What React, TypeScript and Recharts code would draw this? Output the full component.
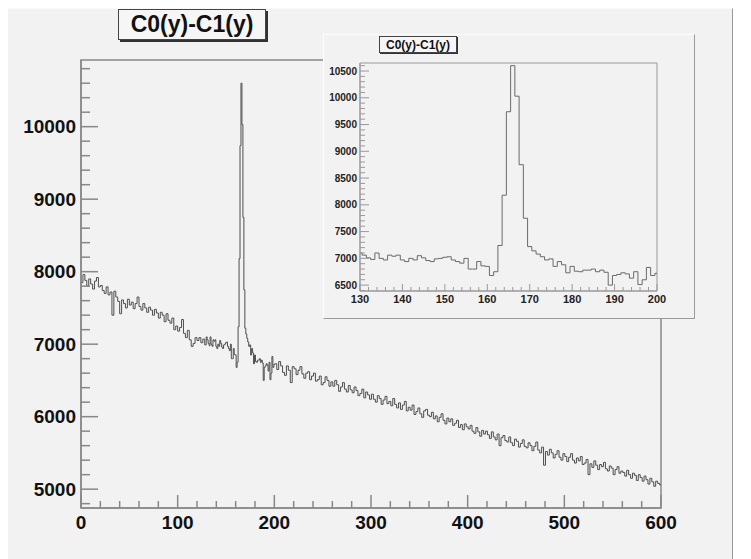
import { Line, LineChart, ReferenceArea, XAxis, YAxis } from "recharts";

const FONT = '"Liberation Sans", Arial, Helvetica, sans-serif';
const TITLE = "C0(y)-C1(y)";

// counts, 2-unit bins from 0 to 130
const lowBins = [
  7850, 7960, 7880, 7800, 7900, 7830, 7760, 7870, 7920, 7790,
  7810, 7740, 7700, 7790, 7680, 7720, 7400, 7730, 7650, 7590,
  7420, 7610, 7560, 7500, 7620, 7540, 7580, 7490, 7560, 7650,
  7520, 7470, 7560, 7500, 7440, 7510, 7470, 7400, 7480, 7430,
  7360, 7440, 7400, 7310, 7420, 7330, 7290, 7360, 7200, 7250,
  7180, 7230, 7340, 7150, 7090, 7190, 7060, 6970, 7010, 7090,
  7050, 7090, 7020, 7070, 6990,
];

// counts, 1-unit bins centred on 130..200 (the zoomed inset)
const insetBins = [
  7100, 7060, 7010, 6980, 7100, 7000, 6970, 7060, 7040, 7060,
  6970, 6940, 7000, 6970, 7050, 7010, 6960, 6940, 6990, 7000,
  7020, 7030, 6970, 6940, 6910, 7000, 6800, 6800, 6940, 6860,
  6850, 6680, 6750, 7240, 8180, 9740, 10600, 10030, 8750, 7750,
  7220, 7140, 7080, 7030, 6970, 6990, 6850, 6940, 6880, 6730,
  6850, 6760, 6750, 6780, 6780, 6800, 6750, 6780, 6740, 6500,
  6680, 6700, 6730, 6710, 6630, 6750, 6510, 6600, 6830, 6680,
  6720,
];

// counts, 2-unit bins from 200.5 to 600
const highBins = [
  6730, 6650, 6760, 6700, 6610, 6570, 6700, 6640, 6470, 6690,
  6660, 6580, 6640, 6690, 6590, 6530, 6600, 6620, 6510, 6560,
  6600, 6490, 6510, 6560, 6440, 6470, 6550, 6500, 6420, 6480,
  6420, 6500, 6440, 6350, 6410, 6470, 6380, 6340, 6430, 6370,
  6330, 6410, 6360, 6290, 6320, 6380, 6260, 6340, 6300, 6240,
  6310, 6240, 6200, 6290, 6250, 6170, 6230, 6280, 6180, 6210,
  6150, 6250, 6170, 6120, 6190, 6100, 6160, 6210, 6080, 6130,
  6090, 6160, 6030, 6070, 6120, 6040, 5990, 6080, 6100, 6020,
  6000, 6060, 5970, 6010, 5930, 5990, 6040, 5950, 5900, 5980,
  5930, 5970, 5880, 5910, 5950, 5850, 5890, 5820, 5900, 5860,
  5830, 5880, 5800, 5770, 5850, 5790, 5730, 5810, 5760, 5800,
  5750, 5700, 5790, 5720, 5680, 5760, 5600, 5710, 5740, 5670,
  5650, 5720, 5640, 5600, 5690, 5660, 5580, 5630, 5680, 5590,
  5570, 5640, 5600, 5530, 5590, 5650, 5540, 5500, 5580, 5330,
  5520, 5470, 5550, 5500, 5430, 5480, 5530, 5440, 5400, 5490,
  5450, 5380, 5440, 5490, 5400, 5360, 5430, 5390, 5450, 5340,
  5360, 5410, 5200, 5350, 5300, 5390, 5330, 5270, 5340, 5310,
  5370, 5280, 5250, 5320, 5290, 5200, 5270, 5310, 5220, 5250,
  5230, 5180, 5260, 5200, 5150, 5220, 5190, 5120, 5200, 5160,
  5110, 5180, 5130, 5070, 5150, 5100, 5040, 5110, 5080, 5060,
];

const range = (a: number, b: number, step: number) => {
  const out: number[] = [];
  for (let v = a; v <= b; v += step) out.push(v);
  return out;
};

const mainXTicks = range(0, 600, 20);
const mainYTicks = range(4800, 10800, 200);
const insetXTicks = range(130, 200, 2);
const insetYTicks = range(6400, 10600, 100);

const mainData = [
  ...lowBins.map((v, i) => ({ x: i * 2, v })),
  ...insetBins.map((v, i) => ({ x: 129.5 + i, v })),
  ...highBins.map((v, i) => ({ x: 200.5 + i * 2, v })),
  { x: 600, v: highBins[highBins.length - 1] },
];

const insetData = [
  ...insetBins.map((v, i) => ({ x: 129.5 + i, v })),
  { x: 200.5, v: insetBins[insetBins.length - 1] },
];

// plot-area edges inside each svg
const M = { left: 73, top: 51, right: 653, bottom: 499 };
const I = { left: 36, top: 28, right: 333, bottom: 256 };

const MainYTick = (p: any) => {
  const major = p.payload.value % 1000 === 0;
  return (
    <g>
      <line x1={M.left} x2={M.left + (major ? 17 : 9)} y1={p.y} y2={p.y} stroke="#888" strokeWidth={1.5} />
      {major && (
        <text x={M.left - 5} y={p.y} textAnchor="end" dominantBaseline="central" fontFamily={FONT} fontWeight="bold" fontSize={19} fill="#111">
          {p.payload.value}
        </text>
      )}
    </g>
  );
};

const MainXTick = (p: any) => {
  const major = p.payload.value % 100 === 0;
  return (
    <g>
      <line x1={p.x} x2={p.x} y1={M.bottom} y2={M.bottom - (major ? 13 : 7)} stroke="#888" strokeWidth={1.5} />
      {major && (
        <text x={p.x} y={M.bottom + 14} textAnchor="middle" dominantBaseline="central" fontFamily={FONT} fontWeight="bold" fontSize={19} fill="#111">
          {p.payload.value}
        </text>
      )}
    </g>
  );
};

const InsetYTick = (p: any) => {
  const major = p.payload.value % 500 === 0;
  return (
    <g>
      <line x1={I.left} x2={I.left + (major ? 9 : 5)} y1={p.y} y2={p.y} stroke="#999" strokeWidth={1} />
      {major && (
        <text x={I.left - 3} y={p.y} textAnchor="end" dominantBaseline="central" fontFamily={FONT} fontWeight="bold" fontSize={10} fill="#222">
          {p.payload.value}
        </text>
      )}
    </g>
  );
};

const InsetXTick = (p: any) => {
  const major = p.payload.value % 10 === 0;
  return (
    <g>
      <line x1={p.x} x2={p.x} y1={I.bottom} y2={I.bottom - (major ? 7 : 4)} stroke="#999" strokeWidth={1} />
      {major && (
        <text x={p.x} y={I.bottom + 8} textAnchor="middle" dominantBaseline="central" fontFamily={FONT} fontWeight="bold" fontSize={11} fill="#222">
          {p.payload.value}
        </text>
      )}
    </g>
  );
};

const titleBox = (fontSize: number, shadow: number): React.CSSProperties => ({
  position: "absolute",
  background: "#f6f6f6",
  border: "1px solid #444",
  boxShadow: `${shadow}px ${shadow}px 0 #333`,
  fontFamily: FONT,
  fontWeight: "bold",
  fontSize,
  color: "#111",
  display: "flex",
  alignItems: "center",
  justifyContent: "center",
  boxSizing: "border-box",
});

export default function App() {
  return (
    <div style={{ position: "relative", width: 725, height: 551, background: "#f2f2f2", borderRight: "1px solid #999", borderTop: "1px solid #fafafa", boxSizing: "border-box" }}>
      <LineChart
        width={725}
        height={551}
        data={mainData}
        margin={{ top: M.top, right: 725 - M.right, bottom: 12, left: M.left - 60 }}
        style={{ position: "absolute", left: 0, top: 0 }}
      >
        <ReferenceArea x1={0} x2={600} y1={4740} y2={10920} stroke="#888" strokeWidth={1.5} fill="none" fillOpacity={0} />
        <XAxis
          dataKey="x"
          type="number"
          domain={[0, 600]}
          ticks={mainXTicks}
          interval={0}
          height={40}
          tickLine={false}
          axisLine={{ stroke: "#888", strokeWidth: 1.5 }}
          tick={MainXTick}
        />
        <YAxis
          type="number"
          domain={[4740, 10920]}
          ticks={mainYTicks}
          interval={0}
          width={60}
          tickLine={false}
          axisLine={{ stroke: "#888", strokeWidth: 1.5 }}
          tick={MainYTick}
        />
        <Line type="stepAfter" dataKey="v" stroke="#4e4e4e" strokeWidth={1} dot={false} isAnimationActive={false} />
      </LineChart>

      <div style={{ ...titleBox(23, 2), left: 110, top: 0, width: 148, height: 31 }}>{TITLE}</div>

      <div
        style={{
          position: "absolute",
          left: 315,
          top: 25,
          width: 372,
          height: 285,
          background: "#f2f2f2",
          borderTop: "1px solid #fdfdfd",
          borderLeft: "1px solid #fdfdfd",
          borderRight: "1px solid #9a9a9a",
          borderBottom: "1px solid #9a9a9a",
          boxSizing: "border-box",
        }}
      >
        <LineChart
          width={370}
          height={283}
          data={insetData}
          margin={{ top: I.top, right: 370 - I.right, bottom: 7, left: I.left - 30 }}
          style={{ position: "absolute", left: 0, top: 0 }}
        >
          <ReferenceArea x1={130} x2={200} y1={6390} y2={10650} stroke="#999" strokeWidth={1} fill="none" fillOpacity={0} />
          <XAxis
            dataKey="x"
            type="number"
            domain={[130, 200]}
            allowDataOverflow
            ticks={insetXTicks}
            interval={0}
            height={20}
            tickLine={false}
            axisLine={{ stroke: "#999" }}
            tick={InsetXTick}
          />
          <YAxis
            type="number"
            domain={[6390, 10650]}
            ticks={insetYTicks}
            interval={0}
            width={30}
            tickLine={false}
            axisLine={{ stroke: "#999" }}
            tick={InsetYTick}
          />
          <Line type="stepAfter" dataKey="v" stroke="#6a6a6a" strokeWidth={1} dot={false} isAnimationActive={false} />
        </LineChart>
        <div style={{ ...titleBox(12, 1), left: 55, top: 1, width: 78, height: 17 }}>{TITLE}</div>
      </div>
    </div>
  );
}
